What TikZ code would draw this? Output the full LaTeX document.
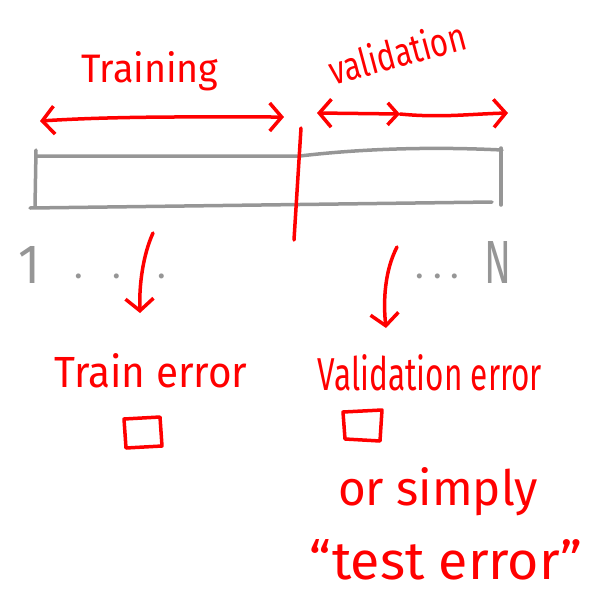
\documentclass[tikz,border=0pt]{standalone}
\usepackage{fontspec}
\setmainfont{Fira Sans}
\usetikzlibrary{arrows.meta}
\definecolor{pen}{RGB}{255,0,0}
\definecolor{pencil}{RGB}{150,150,150}
\newcommand\handtext[3]{\resizebox{#1}{#2}{#3}}
\tikzset{
  redline/.style={draw=pen, line width=3.5pt, line cap=round, line join=round},
  grayline/.style={draw=pencil, line width=3.5pt, line cap=round, line join=round},
  chev/.tip={Straight Barb[length=12pt,width=28pt]},
  smallchev/.tip={Straight Barb[length=10pt,width=22pt]},
  lbl/.style={text=pen, inner sep=0pt, anchor=base, font=\fontsize{30}{34}\selectfont},
  num/.style={text=pencil, inner sep=0pt, anchor=base, font=\fontsize{30}{34}\selectfont},
}
\begin{document}
\begin{tikzpicture}[x=1pt,y=-1pt]
\useasboundingbox (0,0) rectangle (590,595);

% headings
\node[lbl] (train) at (150,82) {\handtext{137pt}{31pt}{Training}};
\node[lbl, rotate=15] (valid) at (401,67) {\handtext{140pt}{31pt}{validation}};

% span arrows
\coordinate (ta) at (40,121);
\coordinate (tb) at (284,117);
\draw[redline, chev-chev] (ta) .. controls (120,116) and (200,117) .. (tb);
\coordinate (va) at (317,113);
\coordinate (vm) at (400,114);
\coordinate (vb) at (508,113);
\draw[redline, chev-smallchev] (va) -- (vm);
\draw[redline, -chev] (vm) .. controls (440,118) and (470,114) .. (vb);

% data bar
\draw[grayline] (36,156) -- (300,156) .. controls (350,150) and (420,146) .. (502,150);
\draw[grayline] (501,148) -- (501,205);
\draw[grayline] (30,208) -- (492,202);
\draw[grayline] (36,150) -- (35,207);

% split line
\coordinate (d1) at (301,128);
\coordinate (d2) at (294,240);
\draw[redline] (d1) -- (d2);

% indices
\node[num] (one) at (30,283) {\handtext{22pt}{37pt}{1}};
\node[num, font=\fontsize{36}{40}\selectfont] (ldots) at (120,278) {.\hspace{30pt}.\hspace{36pt}.};
\node[num, font=\fontsize{36}{40}\selectfont] (rdots) at (437,278) {.\hspace{10pt}.\hspace{8pt}.};
\node[num] (en) at (498,283) {\handtext{27pt}{42pt}{N}};

% down arrows
\coordinate (la) at (153,233);
\coordinate (lb) at (140,313);
\draw[redline, -chev] (la) .. controls (143,255) and (139,285) .. (lb);
\coordinate (ra) at (397,247);
\coordinate (rb) at (386,328);
\draw[redline, -chev] (ra) .. controls (385,270) and (383,300) .. (rb);

% errors
\node[lbl] (terr) at (151,387) {\handtext{193pt}{34pt}{Train error}};
\node[lbl] (verr) at (430,390) {\handtext{224pt}{36pt}{Validation error}};

% boxes
\draw[redline] (124,419) -- (160,417) -- (162,446) -- (126,448) -- cycle;
\draw[redline] (343,412) -- (382,410) -- (380,441) -- (345,439) -- cycle;

% note
\node[lbl] (simply) at (438,505) {\handtext{200pt}{38pt}{or simply}};
\node[lbl] (test) at (446,579) {\handtext{272pt}{40pt}{“test error”}};
\end{tikzpicture}
\end{document}
